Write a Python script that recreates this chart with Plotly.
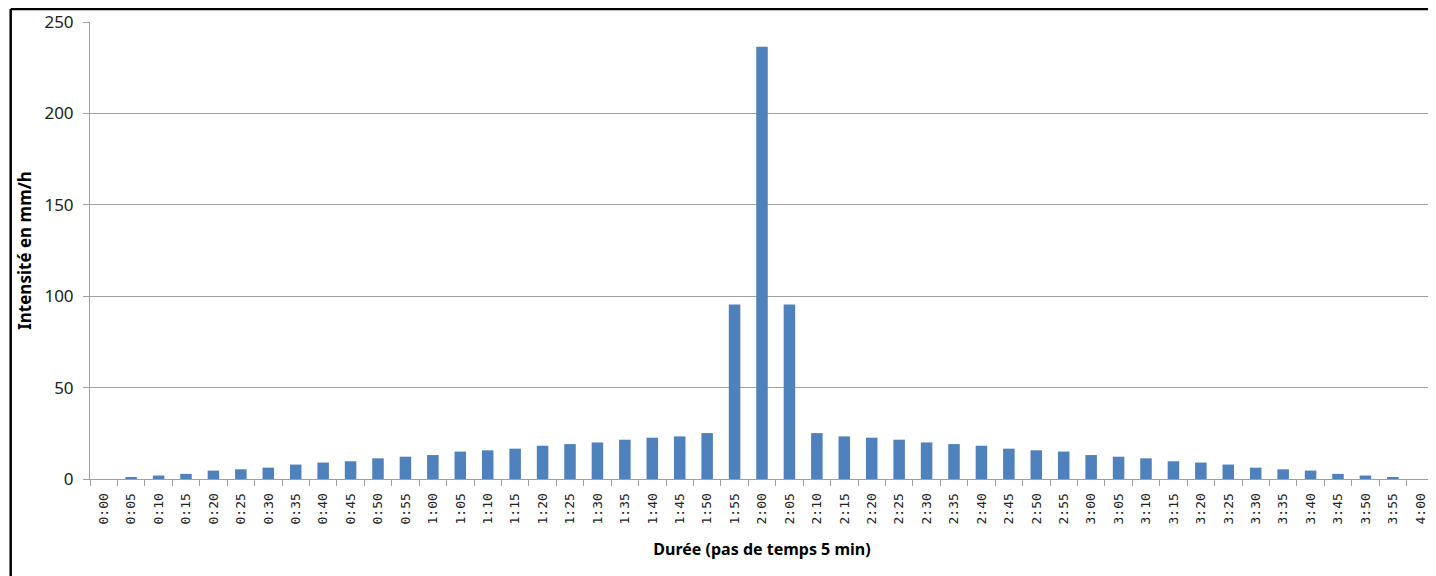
import plotly.graph_objects as go

# time steps of 5 min, from 0:00 to 4:00
durees = ["0:00", "0:05", "0:10", "0:15", "0:20", "0:25", "0:30", "0:35", "0:40", "0:45",
          "0:50", "0:55", "1:00", "1:05", "1:10", "1:15", "1:20", "1:25", "1:30", "1:35",
          "1:40", "1:45", "1:50", "1:55", "2:00", "2:05", "2:10", "2:15", "2:20", "2:25",
          "2:30", "2:35", "2:40", "2:45", "2:50", "2:55", "3:00", "3:05", "3:10", "3:15",
          "3:20", "3:25", "3:30", "3:35", "3:40", "3:45", "3:50", "3:55", "4:00"]

# intensity in mm/h
intensites = [0, 1.1, 1.9, 2.8, 4.6, 5.3, 6.2, 7.9, 9.0, 9.7,
              11.3, 12.2, 13.1, 15.0, 15.7, 16.6, 18.2, 19.1, 20.0, 21.5,
              22.6, 23.3, 25.1, 95.5, 236.5, 95.5, 25.1, 23.3, 22.6, 21.5,
              20.0, 19.1, 18.2, 16.6, 15.7, 15.0, 13.1, 12.2, 11.3, 9.7,
              9.0, 7.9, 6.2, 5.3, 4.6, 2.8, 1.9, 1.1, 0]

y_ticks = [0, 50, 100, 150, 200, 250]

fig = go.Figure()
fig.add_trace(go.Bar(x=durees, y=intensites, marker_color="#4F81BD",
                     marker_line_width=0))

grey = "#A0A0A0"
# the page body adds an 8px offset, so the figure is a bit smaller than the window
fig.update_layout(
    width=1428, height=568,
    margin=dict(l=82, r=2, t=14, b=97, autoexpand=False),
    paper_bgcolor="white", plot_bgcolor="white",
    bargap=0.58, showlegend=False,
    font=dict(family="Noto Sans", color="#222222"),
)
fig.update_xaxes(
    type="category", range=[-0.5, len(durees) - 0.5], automargin=False,
    tickangle=-90, tickfont=dict(family="DejaVu Sans Mono", size=13, color="#222222"),
    ticks="outside", tickson="boundaries", ticklen=6, tickcolor=grey,
    ticklabelstandoff=8,
    showline=True, linecolor=grey, linewidth=1, showgrid=False,
    title=dict(text="<b>Durée (pas de temps 5 min)</b>", font=dict(size=16, color="black"),
               standoff=20),
)
fig.update_yaxes(
    range=[0, 250], tickvals=y_ticks, tickfont=dict(size=17, color="#222222"),
    automargin=False,
    ticks="outside", ticklen=6, tickcolor=grey, ticklabelstandoff=6,
    showline=True, linecolor=grey, linewidth=1,
    showgrid=True, gridcolor=grey, gridwidth=1, zeroline=False,
    title=dict(text="<b>Intensité en mm/h</b>", font=dict(size=17, color="black"),
               standoff=8),
)

# black frame around the chart (top and left edges visible)
fig.add_shape(type="line", xref="paper", yref="paper",
              x0=-0.059, x1=1.02, y0=1.0284, y1=1.0284,
              line=dict(color="black", width=2.5))
fig.add_shape(type="line", xref="paper", yref="paper",
              x0=-0.059, x1=-0.059, y0=1.0284, y1=-0.25,
              line=dict(color="black", width=2.5))

fig.write_html("out.html")
